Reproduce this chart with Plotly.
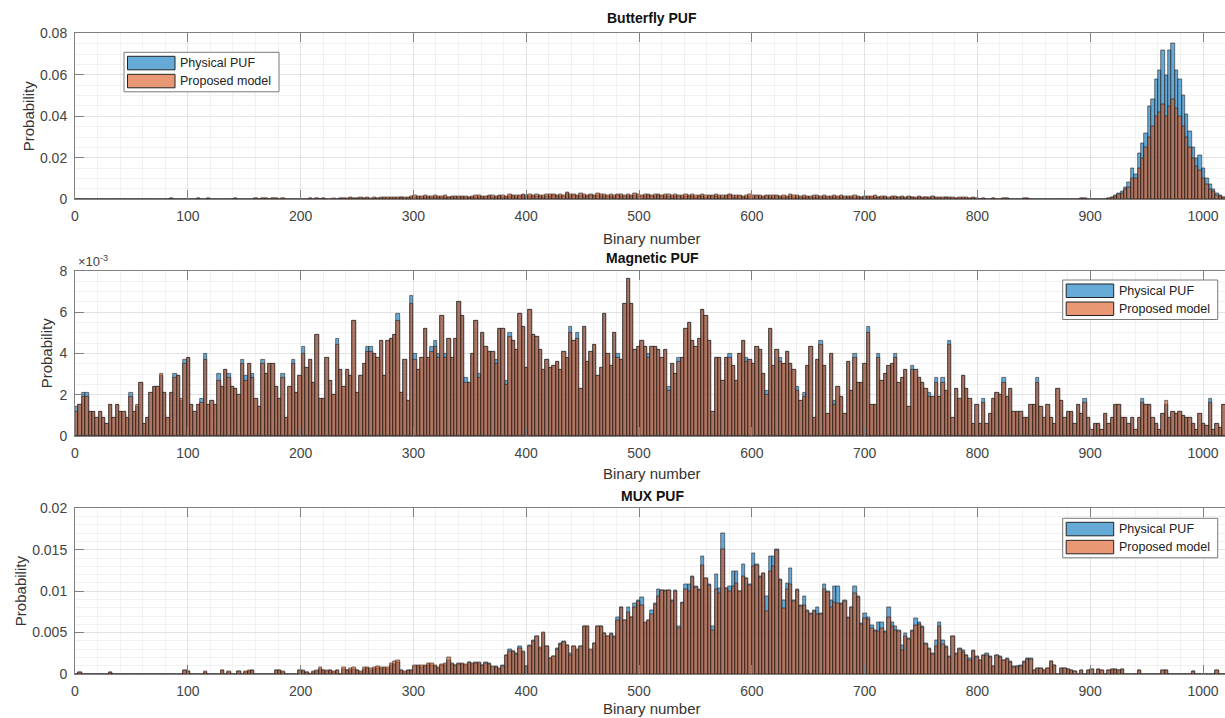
import numpy as np
import plotly.graph_objects as go

# ---------------- data (probability per bin of width 3, 341 bins over 0..1023) ----------------
BIN_WIDTH = 3
N_BINS = 341

# Butterfly PUF
bf_model = (
    [0]*10 + [0]*10 +
    [0, 0, 0, 0, 0, 0, 0, 0, 0.0003, 0] +
    [0, 0, 0, 0, 0, 0, 0.0003, 0, 0, 0.0003] +
    [0, 0, 0, 0.0002, 0, 0, 0, 0.0003, 0, 0] +
    [0, 0, 0, 0.0003, 0, 0.0003, 0.0004, 0, 0.0003, 0.0004] +
    [0, 0.0003, 0, 0, 0, 0, 0, 0, 0, 0.0003] +
    [0, 0.0003, 0, 0.0003, 0, 0] +
    [0.0003, 0, 0.0005, 0.0006, 0.0004, 0.0008, 0.0007, 0.0005, 0.0009, 0.0006, 0.0008, 0.0004,
     0.0009, 0.0007, 0.0008, 0.0010, 0.0009, 0.0011, 0.0008, 0.0010, 0.0012, 0.0009, 0.0011, 0.0013] +
    [0.0019, 0.0015, 0.0014, 0.0017, 0.0016, 0.0013, 0.0018, 0.0015, 0.0014, 0.0017, 0.0012, 0.0014, 0.0016,
     0.0013, 0.0015, 0.0014, 0.0012, 0.0016, 0.0018, 0.0017, 0.0014, 0.0015, 0.0019, 0.0018, 0.0014] +
    [0.0021, 0.0019, 0.0016, 0.0022, 0.0020, 0.0017, 0.0021, 0.0025, 0.0019, 0.0022, 0.0021, 0.0024, 0.0020,
     0.0018, 0.0023, 0.0022, 0.0026, 0.0021, 0.0024, 0.0020, 0.0036, 0.0022, 0.0025, 0.0021, 0.0027, 0.0023] +
    [0.0021, 0.0025, 0.0020, 0.0028, 0.0022, 0.0024, 0.0021, 0.0023, 0.0019, 0.0025,
     0.0022, 0.0020, 0.0024, 0.0021, 0.0029, 0.0023, 0.0020, 0.0022, 0.0025, 0.0021,
     0.0023, 0.0026, 0.0020, 0.0022, 0.0024, 0.0019, 0.0023, 0.0021, 0.0018, 0.0022] +
    [0.0020, 0.0023, 0.0019, 0.0021, 0.0024, 0.0018, 0.0021, 0.0020, 0.0022, 0.0019,
     0.0017, 0.0021, 0.0025, 0.0019, 0.0018, 0.0020, 0.0016, 0.0019, 0.0022, 0.0017,
     0.0021, 0.0018, 0.0016, 0.0020, 0.0019, 0.0017, 0.0021, 0.0015, 0.0018, 0.0016,
     0.0022, 0.0017, 0.0019, 0.0015, 0.0018, 0.0016, 0.0014, 0.0019, 0.0017, 0.0015] +
    [0.0018, 0.0016, 0.0013, 0.0017, 0.0015, 0.0019, 0.0014, 0.0016, 0.0013, 0.0017,
     0.0015, 0.0012, 0.0016, 0.0014, 0.0013, 0.0017, 0.0012, 0.0015, 0.0013, 0.0011,
     0.0014, 0.0016, 0.0012, 0.0013, 0.0010, 0.0014, 0.0012, 0.0011, 0.0013, 0.0009,
     0.0012, 0.0010, 0.0013, 0.0008, 0.0011, 0.0009, 0.0012, 0.0008, 0.0010, 0.0007,
     0.0011, 0.0008, 0.0009, 0.0006, 0.0009, 0.0005] +
    [0, 0.0003, 0, 0, 0.0004, 0, 0, 0.0003, 0.0004, 0,
     0, 0, 0, 0.0003, 0.0003, 0, 0, 0, 0, 0,
     0, 0.0002, 0, 0, 0, 0, 0, 0, 0, 0,
     0.0003, 0.0003, 0, 0, 0, 0, 0, 0, 0.0004, 0.0008] +
    [0.0015, 0.0025, 0.003, 0.005, 0.006, 0.010, 0.010, 0.015, 0.020, 0.025, 0.030, 0.035,
     0.040, 0.042, 0.046, 0.040, 0.045, 0.048, 0.044, 0.040, 0.035, 0.030, 0.025, 0.020,
     0.016, 0.014, 0.010, 0.007, 0.005, 0.004, 0.002, 0.0015, 0.0008, 0.0004]
)
bf_phys = (
    [0]*10 + [0]*10 +
    [0, 0, 0, 0, 0, 0, 0, 0, 0.0003, 0] +
    [0, 0, 0, 0, 0, 0, 0.0003, 0, 0, 0.0003] +
    [0, 0, 0, 0.0002, 0, 0, 0, 0.0003, 0, 0] +
    [0, 0, 0, 0.0003, 0, 0.0003, 0.0004, 0, 0.0003, 0.0004] +
    [0, 0.0003, 0, 0, 0, 0, 0, 0, 0, 0.0003] +
    [0, 0.0003, 0, 0.0003, 0, 0] +
    [0.0002, 0, 0.0003, 0.0004, 0.0002, 0.0005, 0.0004, 0.0003, 0.0006, 0.0004, 0.0005, 0.0002,
     0.0006, 0.0004, 0.0005, 0.0007, 0.0006, 0.0007, 0.0005, 0.0006, 0.0008, 0.0006, 0.0007, 0.0009] +
    [0.0012, 0.0010, 0.0009, 0.0011, 0.0010, 0.0008, 0.0012, 0.0010, 0.0009, 0.0011, 0.0008, 0.0009, 0.0011,
     0.0008, 0.0010, 0.0009, 0.0008, 0.0010, 0.0012, 0.0011, 0.0009, 0.0010, 0.0013, 0.0012, 0.0009] +
    [0.0014, 0.0012, 0.0010, 0.0015, 0.0013, 0.0011, 0.0014, 0.0017, 0.0012, 0.0015, 0.0014, 0.0016, 0.0013,
     0.0012, 0.0015, 0.0014, 0.0018, 0.0014, 0.0016, 0.0013, 0.0028, 0.0015, 0.0017, 0.0014, 0.0019, 0.0015] +
    [0.0014, 0.0017, 0.0013, 0.0020, 0.0015, 0.0016, 0.0014, 0.0015, 0.0012, 0.0017,
     0.0015, 0.0013, 0.0016, 0.0014, 0.0021, 0.0015, 0.0013, 0.0015, 0.0017, 0.0014,
     0.0015, 0.0018, 0.0013, 0.0015, 0.0016, 0.0012, 0.0015, 0.0014, 0.0012, 0.0015] +
    [0.0013, 0.0015, 0.0012, 0.0014, 0.0016, 0.0012, 0.0014, 0.0013, 0.0015, 0.0012,
     0.0011, 0.0014, 0.0017, 0.0012, 0.0012, 0.0013, 0.0010, 0.0012, 0.0015, 0.0011,
     0.0014, 0.0012, 0.0010, 0.0013, 0.0012, 0.0011, 0.0014, 0.0010, 0.0012, 0.0010,
     0.0015, 0.0011, 0.0012, 0.0010, 0.0012, 0.0010, 0.0009, 0.0012, 0.0011, 0.0010] +
    [0.0012, 0.0010, 0.0008, 0.0011, 0.0010, 0.0012, 0.0009, 0.0010, 0.0008, 0.0011,
     0.0010, 0.0008, 0.0010, 0.0009, 0.0008, 0.0011, 0.0008, 0.0010, 0.0008, 0.0007,
     0.0009, 0.0010, 0.0008, 0.0008, 0.0006, 0.0009, 0.0008, 0.0007, 0.0008, 0.0006,
     0.0008, 0.0006, 0.0008, 0.0005, 0.0007, 0.0006, 0.0008, 0.0005, 0.0006, 0.0004,
     0.0007, 0.0005, 0.0006, 0.0004, 0.0006, 0.0003] +
    [0, 0.0003, 0, 0, 0.0004, 0, 0, 0.0003, 0.0004, 0,
     0, 0, 0, 0.0003, 0.0003, 0, 0, 0, 0, 0,
     0, 0.0002, 0, 0, 0, 0, 0, 0, 0, 0,
     0.0003, 0.0003, 0, 0, 0, 0, 0, 0, 0.0004, 0.0010] +
    [0.0021, 0.003, 0.004, 0.006, 0.008, 0.015, 0.012, 0.022, 0.027, 0.032, 0.045, 0.048,
     0.058, 0.062, 0.072, 0.060, 0.072, 0.075, 0.062, 0.058, 0.050, 0.041, 0.033, 0.025,
     0.020, 0.021, 0.015, 0.010, 0.007, 0.005, 0.003, 0.002, 0.001, 0.0005]
)

# Magnetic PUF (values in units of 1e-3)
mag_phys_e3 = (
    [1.4, 1.5, 2.1, 2.1, 1.2, 1.2, 0.9, 1.2, 0.9, 0.6, 1.5, 0.9, 1.5, 1.2, 1.2, 0.9, 2.1, 1.2, 1.4, 2.6,
     0.6, 0.9, 2.1, 2.4, 2.4, 2.9, 2.1, 0.9, 2.1, 3.0, 2.9, 1.7, 3.7, 3.8] +
    [1.5, 1.2, 1.5, 1.8] +
    [4.0, 1.5, 1.7, 1.5, 3.0, 2.4, 3.2, 3.0, 2.4, 2.3, 2.0, 3.7, 2.9, 3.5, 3.0, 1.8, 1.4, 3.7, 3.0, 3.5,
     3.5, 2.4, 1.8, 3.0, 0.9, 2.4, 3.7, 2.1, 2.9, 4.3, 3.3, 3.7, 2.6, 4.9, 1.8, 1.8, 3.8, 2.7, 2.0, 4.7,
     3.2, 2.4, 3.2, 2.9, 5.6, 2.1, 2.9, 3.5, 4.3, 4.3, 4.0, 3.8, 4.6, 2.9, 4.6, 4.7, 4.9, 5.9, 2.1, 3.7,
     1.7, 6.8, 4.0, 3.2, 3.8, 5.2, 3.8, 4.3, 4.6, 4.0, 5.8, 4.0, 4.7, 3.8, 4.7, 6.5] +
    [5.8, 2.8, 2.6, 4.0, 5.6, 3.0, 5.0, 4.3, 4.1, 4.1, 3.7, 5.2, 5.2, 2.7, 5.0, 4.6, 4.2, 5.9] +
    [5.3, 3.3, 6.1, 4.9, 4.8, 4.2, 3.2, 3.7, 3.3, 3.4, 3.6, 3.2, 4.1, 3.8, 5.3, 4.6, 5.0, 2.3, 5.3, 3.6,
     4.1, 4.4, 2.9, 3.3, 5.9, 4.0, 3.4, 5.0, 4.0, 3.7, 6.4, 7.6] +
    [6.4, 4.2, 4.3, 4.6, 4.3, 4.0, 4.3, 4.3, 4.2, 3.8, 4.2, 2.4, 3.5, 3.0, 3.8, 3.8, 5.2, 5.5, 4.6, 4.3,
     4.7, 6.1, 5.8, 4.6, 1.2, 3.8, 3.8, 2.7, 3.8, 4.0, 3.4, 2.7, 4.0, 4.6, 3.8, 3.7, 3.5, 4.3, 4.2, 3.0,
     2.2, 5.2, 3.4, 4.2, 3.8, 3.5, 4.1, 3.5, 3.2, 2.4, 1.7, 2.1, 3.4, 4.3, 0.9, 3.7, 4.6, 3.4, 1.1, 4.0,
     1.7, 2.4, 1.9, 1.1, 3.6, 2.2, 4.0] +
    [2.6, 2.6, 3.5, 5.3, 1.5, 1.5, 4.0, 2.7, 3.0, 3.4, 3.5, 4.0, 2.6, 2.8, 3.2, 1.4, 3.4, 3.2, 2.8, 2.6,
     2.3, 2.1, 1.9, 2.8, 1.9, 2.8, 2.2, 4.6, 0.9, 2.3, 1.8, 2.9, 2.3, 1.8, 0.6, 1.5, 0.6, 1.8, 0.6, 1.1,
     1.8, 2.1, 2.0, 2.8, 1.9, 2.3, 1.2, 1.2, 1.2, 0.9, 0.9, 1.5, 1.5, 2.8, 1.4, 0.9, 1.5, 0.9, 0.6, 2.3,
     1.7, 0.9, 1.2, 1.2, 0.6, 1.5, 1.1, 1.8, 0.9, 0.3, 0.6, 0.6, 0.3, 1.1, 0.6, 0.9, 1.5, 1.5, 0.9, 0.9,
     0.6, 0.9, 0.3, 0.9, 1.8, 1.5, 1.5, 0.9, 0.6, 0.3, 1.1, 1.5, 0.9, 1.2, 1.1, 1.2, 1.0, 0.9, 0.9, 0.6,
     0.3, 1.1, 0.6, 0.5, 1.8, 0.3, 0.6, 0.4, 1.5, 0.8]
)
mag_model_e3 = (
    [1.2, 1.5, 1.9, 1.9, 1.2, 1.2, 0.9, 1.2, 0.9, 0.6, 1.5, 0.9, 1.5, 1.2, 1.2, 0.9, 1.9, 1.2, 1.5, 2.6,
     0.6, 0.9, 2.1, 2.4, 2.4, 3.0, 2.1, 0.9, 2.1, 2.8, 2.9, 1.8, 3.5, 3.8] +
    [1.5, 1.2, 1.5, 1.6] +
    [3.7, 1.5, 1.7, 1.5, 2.7, 2.4, 3.2, 2.8, 2.4, 2.3, 2.0, 3.5, 2.7, 3.5, 2.8, 1.8, 1.4, 3.5, 3.0, 3.5,
     3.5, 2.4, 1.8, 2.8, 0.9, 2.4, 3.5, 2.1, 2.9, 4.0, 3.3, 3.7, 2.6, 4.9, 1.8, 1.8, 3.8, 2.7, 2.0, 4.4,
     3.2, 2.4, 3.2, 2.9, 5.6, 2.1, 2.9, 3.5, 4.1, 4.1, 4.0, 3.8, 4.6, 2.9, 4.6, 4.7, 4.9, 5.6, 2.1, 3.7,
     1.7, 6.4, 3.7, 3.2, 3.8, 5.2, 3.8, 4.1, 4.3, 3.8, 5.8, 3.8, 4.7, 3.8, 4.7, 6.5] +
    [5.8, 2.6, 2.6, 4.0, 5.6, 2.8, 5.0, 4.3, 4.1, 4.1, 3.5, 5.2, 5.2, 2.5, 4.8, 4.6, 4.2, 5.9] +
    [5.3, 3.3, 6.1, 4.9, 4.8, 4.2, 3.2, 3.7, 3.3, 3.4, 3.6, 3.2, 4.1, 3.8, 5.0, 4.6, 4.7, 2.3, 5.3, 3.6,
     4.1, 4.4, 2.9, 3.3, 5.9, 4.0, 3.4, 5.0, 3.8, 3.7, 6.4, 7.6] +
    [6.4, 4.2, 4.3, 4.6, 4.3, 3.8, 4.3, 4.3, 4.2, 3.8, 4.2, 2.2, 3.5, 3.0, 3.6, 3.8, 5.2, 5.5, 4.6, 4.3,
     4.7, 6.1, 5.8, 4.6, 1.2, 3.8, 3.8, 2.7, 3.8, 3.8, 3.4, 2.7, 4.0, 4.6, 3.6, 3.7, 3.5, 4.3, 4.2, 3.0,
     2.0, 5.2, 3.4, 4.2, 3.6, 3.5, 4.1, 3.5, 3.2, 2.2, 1.7, 1.9, 3.4, 4.3, 0.9, 3.7, 4.4, 3.4, 1.1, 4.0,
     1.5, 2.4, 1.9, 1.1, 3.6, 2.2, 3.8] +
    [2.6, 2.6, 3.5, 5.0, 1.5, 1.5, 3.8, 2.7, 3.0, 3.4, 3.5, 3.8, 2.6, 2.8, 3.2, 1.4, 3.2, 3.2, 2.8, 2.6,
     2.3, 1.9, 1.9, 2.6, 1.9, 2.6, 2.2, 4.4, 0.9, 2.3, 1.8, 2.9, 2.3, 1.8, 0.6, 1.5, 0.6, 1.6, 0.6, 1.1,
     1.8, 2.1, 2.0, 2.6, 1.9, 2.3, 1.2, 1.2, 1.2, 0.9, 0.9, 1.5, 1.5, 2.6, 1.4, 0.9, 1.5, 0.9, 0.6, 2.3,
     1.7, 0.9, 1.2, 1.2, 0.6, 1.5, 1.1, 1.6, 0.9, 0.3, 0.6, 0.6, 0.3, 1.1, 0.6, 0.9, 1.5, 1.5, 0.9, 0.9,
     0.6, 0.9, 0.3, 0.9, 1.6, 1.5, 1.5, 0.9, 0.6, 0.3, 1.1, 1.7, 0.9, 1.2, 1.1, 1.2, 1.0, 0.9, 0.9, 0.6,
     0.3, 1.1, 0.6, 0.5, 1.6, 0.3, 0.6, 0.4, 1.5, 0.8]
)

# MUX PUF
mux_tail = (
    [0, 0.0007, 0.0007, 0.0006, 0.0005, 0.0003, 0, 0.0005, 0, 0.0004,
     0.0006, 0, 0.0006, 0.0005, 0, 0.0005, 0.0006, 0.0006, 0.0005, 0.0006,
     0, 0, 0, 0, 0.0004, 0, 0, 0, 0, 0,
     0, 0.0004, 0.0004, 0, 0, 0, 0, 0, 0, 0,
     0.0003, 0, 0, 0, 0, 0, 0, 0.0004, 0, 0, 0.0003]
)
mux_model = (
    [0, 0.0002, 0, 0, 0, 0, 0, 0, 0, 0,
     0.0002, 0, 0, 0, 0, 0, 0, 0, 0, 0,
     0, 0, 0, 0, 0, 0, 0, 0, 0, 0,
     0, 0, 0.0005, 0.0003, 0, 0, 0, 0, 0.0003, 0,
     0, 0, 0, 0.0005, 0, 0.0003, 0, 0, 0.0003, 0,
     0.0003, 0.0004, 0.0005, 0, 0, 0, 0, 0, 0, 0.0005,
     0.0005, 0.0003, 0, 0, 0, 0, 0.0005, 0.0004, 0.0002, 0,
     0.0003, 0.0004, 0.0008, 0.0005, 0.0004, 0.0005, 0.0003, 0.0005, 0, 0.0008,
     0.0005, 0.0007, 0.0008, 0.0005, 0.0003, 0.0008, 0.0008, 0.0007, 0.0008, 0.0009,
     0.0008, 0.0008, 0.0008, 0.0013, 0.0015, 0.0017, 0.0005, 0.0003, 0.0005, 0.0005,
     0.0011, 0.0011, 0.0010, 0.0011, 0.0013, 0.0013, 0.0011, 0.0008, 0.0012, 0.0013,
     0.0020] +
    [0.0013, 0.0011, 0.0012, 0.0013, 0.0012, 0.0014, 0.0013, 0.0013, 0.0014, 0.0011,
     0.0013, 0.0012, 0.0009, 0.0008, 0.0007, 0.0009, 0.0022, 0.0028, 0.0028, 0.0024,
     0.0031, 0.0027, 0.0009, 0.0033, 0.0040, 0.0046, 0.0032, 0.0050, 0.0033, 0.0019,
     0.0021, 0.0030, 0.0036, 0.0038, 0.0035, 0.0022, 0.0033, 0.0030, 0.0033, 0.0058,
     0.0058, 0.0030, 0.0037, 0.0058, 0.0058, 0.0049, 0.0045, 0.0048, 0.0044, 0.0065,
     0.0080, 0.0065, 0.0075, 0.0068, 0.0080, 0.0088, 0.0083, 0.0062, 0.0065, 0.0072,
     0.0084, 0.0094, 0.0101, 0.0100, 0.0101, 0.0088, 0.0100, 0.0055, 0.0085, 0.0102,
     0.0100, 0.0117, 0.0105, 0.0101, 0.0131, 0.0115, 0.0107, 0.0053, 0.0102, 0.0098,
     0.0150, 0.0103, 0.0100, 0.0106, 0.0110, 0.0100, 0.0118, 0.0115, 0.0107, 0.0130,
     0.0131, 0.0117, 0.0121, 0.0076, 0.0124, 0.0130, 0.0149, 0.0113, 0.0079, 0.0102,
     0.0108, 0.0088, 0.0101, 0.0082, 0.0083, 0.0076, 0.0072, 0.0076, 0.0072, 0.0072,
     0.0102, 0.0099, 0.0080, 0.0087, 0.0085, 0.0084, 0.0088, 0.0067, 0.0080] +
    [0.0098, 0.0093, 0.0060, 0.0067, 0.0066, 0.0055, 0.0052, 0.0051, 0.0055, 0.0050,
     0.0069, 0.0058, 0.0053, 0.0052, 0.0029, 0.0045, 0.0042, 0.0052, 0.0059, 0.0060,
     0.0056, 0.0036, 0.0030, 0.0024, 0.0033, 0.0057, 0.0036, 0.0032, 0.0020, 0.0045,
     0.0024, 0.0030, 0.0026, 0.0022, 0.0016, 0.0028, 0.0020, 0.0016, 0.0022, 0.0022,
     0.0020, 0.0009, 0.0022, 0.0020, 0.0016, 0.0018, 0.0014, 0.0008, 0.0009, 0.0009,
     0.0014, 0.0018, 0.0018, 0.0005, 0.0007, 0.0007, 0.0005, 0.0007, 0.0015, 0.0011] +
    mux_tail
)
mux_phys = (
    [0, 0.0002, 0, 0, 0, 0, 0, 0, 0, 0,
     0.0002, 0, 0, 0, 0, 0, 0, 0, 0, 0,
     0, 0, 0, 0, 0, 0, 0, 0, 0, 0,
     0, 0, 0.0004, 0.0003, 0, 0, 0, 0, 0.0002, 0,
     0, 0, 0, 0.0004, 0, 0.0002, 0, 0, 0.0003, 0,
     0.0002, 0.0003, 0.0004, 0, 0, 0, 0, 0, 0, 0.0004,
     0.0004, 0.0002, 0, 0, 0, 0, 0.0004, 0.0003, 0.0002, 0,
     0.0002, 0.0003, 0.0006, 0.0004, 0.0003, 0.0004, 0.0002, 0.0004, 0, 0.0006,
     0.0004, 0.0005, 0.0006, 0.0004, 0.0002, 0.0006, 0.0007, 0.0005, 0.0006, 0.0007,
     0.0006, 0.0007, 0.0006, 0.0011, 0.0012, 0.0014, 0.0004, 0.0002, 0.0004, 0.0004,
     0.0009, 0.0009, 0.0008, 0.0009, 0.0011, 0.0011, 0.0009, 0.0007, 0.0010, 0.0011,
     0.0017] +
    [0.0012, 0.0010, 0.0013, 0.0012, 0.0011, 0.0014, 0.0012, 0.0014, 0.0013, 0.0010,
     0.0014, 0.0013, 0.0008, 0.0009, 0.0006, 0.0010, 0.0023, 0.0030, 0.0027, 0.0025,
     0.0033, 0.0026, 0.0009, 0.0035, 0.0041, 0.0045, 0.0031, 0.0049, 0.0033, 0.0019,
     0.0021, 0.0031, 0.0037, 0.0039, 0.0035, 0.0025, 0.0033, 0.0029, 0.0033, 0.0057,
     0.0057, 0.0029, 0.0037, 0.0057, 0.0057, 0.0049, 0.0045, 0.0049, 0.0045, 0.0069,
     0.0081, 0.0065, 0.0081, 0.0069, 0.0085, 0.0089, 0.0093, 0.0061, 0.0065, 0.0077,
     0.0085, 0.0102, 0.0101, 0.0101, 0.0101, 0.0089, 0.0101, 0.0057, 0.0087, 0.0108,
     0.0108, 0.0118, 0.0106, 0.0102, 0.0142, 0.0116, 0.0108, 0.0057, 0.0120, 0.0104,
     0.0170, 0.0104, 0.0106, 0.0124, 0.0124, 0.0100, 0.0132, 0.0116, 0.0108, 0.0146,
     0.0132, 0.0118, 0.0122, 0.0094, 0.0142, 0.0142, 0.0150, 0.0114, 0.0089, 0.0110,
     0.0128, 0.0089, 0.0102, 0.0083, 0.0094, 0.0077, 0.0073, 0.0077, 0.0081, 0.0073,
     0.0108, 0.0100, 0.0089, 0.0106, 0.0106, 0.0085, 0.0089, 0.0069, 0.0081] +
    [0.0106, 0.0094, 0.0061, 0.0073, 0.0069, 0.0059, 0.0053, 0.0063, 0.0063, 0.0051,
     0.0080, 0.0063, 0.0057, 0.0053, 0.0035, 0.0049, 0.0043, 0.0053, 0.0067, 0.0063,
     0.0057, 0.0037, 0.0031, 0.0025, 0.0041, 0.0063, 0.0041, 0.0033, 0.0021, 0.0045,
     0.0025, 0.0031, 0.0029, 0.0023, 0.0019, 0.0029, 0.0021, 0.0017, 0.0023, 0.0025,
     0.0021, 0.0009, 0.0023, 0.0021, 0.0017, 0.0019, 0.0015, 0.0009, 0.0009, 0.0011,
     0.0015, 0.0019, 0.0019, 0.0005, 0.0007, 0.0007, 0.0005, 0.0007, 0.0015, 0.0011] +
    mux_tail
)

series_names = ["Physical PUF", "Proposed model"]
titles = ["Butterfly PUF", "Magnetic PUF", "MUX PUF"]
x_ticks = [0, 100, 200, 300, 400, 500, 600, 700, 800, 900, 1000]

for nm, arr in [("bf_model", bf_model), ("bf_phys", bf_phys), ("mag_phys", mag_phys_e3),
                ("mag_model", mag_model_e3), ("mux_model", mux_model), ("mux_phys", mux_phys)]:
    assert len(arr) == N_BINS, f"{nm} has {len(arr)}"

edges = np.arange(N_BINS) * BIN_WIDTH
centers = edges + BIN_WIDTH / 2

mag_phys = np.array(mag_phys_e3) * 1e-3
mag_model = np.array(mag_model_e3) * 1e-3

panels = [
    (bf_phys, bf_model, [0, 0.08], [0, 0.02, 0.04, 0.06, 0.08], ["0", "0.02", "0.04", "0.06", "0.08"], 0.005),
    (mag_phys, mag_model, [0, 0.008], [0, 0.002, 0.004, 0.006, 0.008], ["0", "2", "4", "6", "8"], 0.0005),
    (mux_phys, mux_model, [0, 0.02], [0, 0.005, 0.01, 0.015, 0.02], ["0", "0.005", "0.01", "0.015", "0.02"], 0.001),
]

W, H = 1225, 718
boxes = [(33.3, 199.3), (270.7, 436.0), (508.3, 674.0)]   # (top, bottom) of each axes, px
x_left = 75.0
x_range = [0, 1019.5]

BLUE = "rgba(0,114,189,0.6)"
ORANGE = "rgba(217,83,25,0.6)"
BLUE_SW = "rgb(102,170,215)"
ORANGE_SW = "rgb(232,152,117)"
EDGE = "rgb(35,35,35)"
FONT = "Liberation Sans, Arial, Helvetica, sans-serif"
AXC = "#808080"

fig = go.Figure()
layout = dict(
    width=W, height=H, margin=dict(l=0, r=0, t=0, b=0, pad=0, autoexpand=False),
    paper_bgcolor="white", plot_bgcolor="white",
    barmode="overlay", bargap=0, showlegend=False,
    font=dict(family=FONT, size=14, color="#333333"),
)

for i, (phys, model, yr, yt, ytt, ymin) in enumerate(panels):
    xa = "x" if i == 0 else f"x{i+1}"
    ya = "y" if i == 0 else f"y{i+1}"
    fig.add_trace(go.Bar(x=centers, y=phys, width=BIN_WIDTH, name=series_names[0],
                         marker=dict(color=BLUE, line=dict(color=EDGE, width=0.6)),
                         xaxis=xa, yaxis=ya))
    fig.add_trace(go.Bar(x=centers, y=model, width=BIN_WIDTH, name=series_names[1],
                         marker=dict(color=ORANGE, line=dict(color=EDGE, width=0.6)),
                         xaxis=xa, yaxis=ya))
    top, bot = boxes[i]
    xkey = "xaxis" if i == 0 else f"xaxis{i+1}"
    ykey = "yaxis" if i == 0 else f"yaxis{i+1}"
    layout[xkey] = dict(
        domain=[x_left / W, 1.0], anchor=ya, range=x_range, automargin=False,
        tickvals=x_ticks, ticks="inside", ticklen=9, tickcolor=AXC,
        showline=True, linecolor=AXC, linewidth=1, mirror="ticks",
        showgrid=True, gridcolor="#e2e2e2", gridwidth=1,
        minor=dict(dtick=20, tick0=0, showgrid=True, gridcolor="#f1f1f1", ticks=""),
        tickfont=dict(size=14, color="#444444"), ticklabelstandoff=4,
        zeroline=False, fixedrange=True,
    )
    layout[ykey] = dict(
        domain=[1 - bot / H, 1 - top / H], anchor=xa, range=yr, automargin=False,
        tickvals=yt, ticktext=ytt, ticks="inside", ticklen=9, tickcolor=AXC,
        showline=True, linecolor=AXC, linewidth=1, mirror=False,
        showgrid=True, gridcolor="#e2e2e2", gridwidth=1,
        minor=dict(dtick=ymin, tick0=0, showgrid=True, gridcolor="#f1f1f1", ticks=""),
        tickfont=dict(size=14, color="#444444"), ticklabelstandoff=4,
        zeroline=False, fixedrange=True,
    )

ann = []
shapes = []
xc = 652 / W
title_y = [18, 258, 496]
xlabel_y = [238, 473, 708]
ylabel_x = [28, 46, 20]
for i in range(3):
    top, bot = boxes[i]
    ann.append(dict(text=f"<b>{titles[i]}</b>", x=xc, y=1 - title_y[i] / H, xref="paper", yref="paper",
                    showarrow=False, font=dict(family=FONT, size=14, color="#111111"),
                    xanchor="center", yanchor="middle"))
    ann.append(dict(text="Binary number", x=xc, y=1 - xlabel_y[i] / H, xref="paper", yref="paper",
                    showarrow=False, font=dict(family=FONT, size=15, color="#333333"),
                    xanchor="center", yanchor="middle"))
    ann.append(dict(text="Probability", x=ylabel_x[i] / W, y=1 - (top + bot) / 2 / H, xref="paper",
                    yref="paper", showarrow=False, textangle=-90,
                    font=dict(family=FONT, size=15, color="#333333"),
                    xanchor="center", yanchor="middle"))
ann.append(dict(text="×10<sup>-3</sup>", x=76 / W, y=1 - 261 / H, xref="paper", yref="paper",
                showarrow=False, font=dict(family=FONT, size=13, color="#444444"),
                xanchor="left", yanchor="middle"))


def px_x(v):
    return v / W


def px_y(v):
    return 1 - v / H


# MATLAB-style legend boxes (top-left corner in px)
legend_corners = [(124.0, 52.3), (1062.7, 280.0), (1062.7, 518.3)]
for (lx, ly) in legend_corners:
    shapes.append(dict(type="rect", xref="paper", yref="paper",
                       x0=px_x(lx), x1=px_x(lx + 155), y0=px_y(ly + 39.5), y1=px_y(ly),
                       fillcolor="white", line=dict(color="#7a7a7a", width=1), layer="above"))
    for j, (col, name) in enumerate([(BLUE_SW, series_names[0]), (ORANGE_SW, series_names[1])]):
        sy0 = ly + 4 + j * 18
        shapes.append(dict(type="rect", xref="paper", yref="paper",
                           x0=px_x(lx + 3.5), x1=px_x(lx + 51), y0=px_y(sy0 + 13.5), y1=px_y(sy0),
                           fillcolor=col, line=dict(color=EDGE, width=1), layer="above"))
        ann.append(dict(text=name, x=px_x(lx + 54), y=px_y(sy0 + 7), xref="paper", yref="paper",
                        showarrow=False, font=dict(family=FONT, size=12.5, color="#222222"),
                        xanchor="left", yanchor="middle"))

layout["annotations"] = ann
layout["shapes"] = shapes

fig.update_layout(**layout)
fig.write_html("out.html")
